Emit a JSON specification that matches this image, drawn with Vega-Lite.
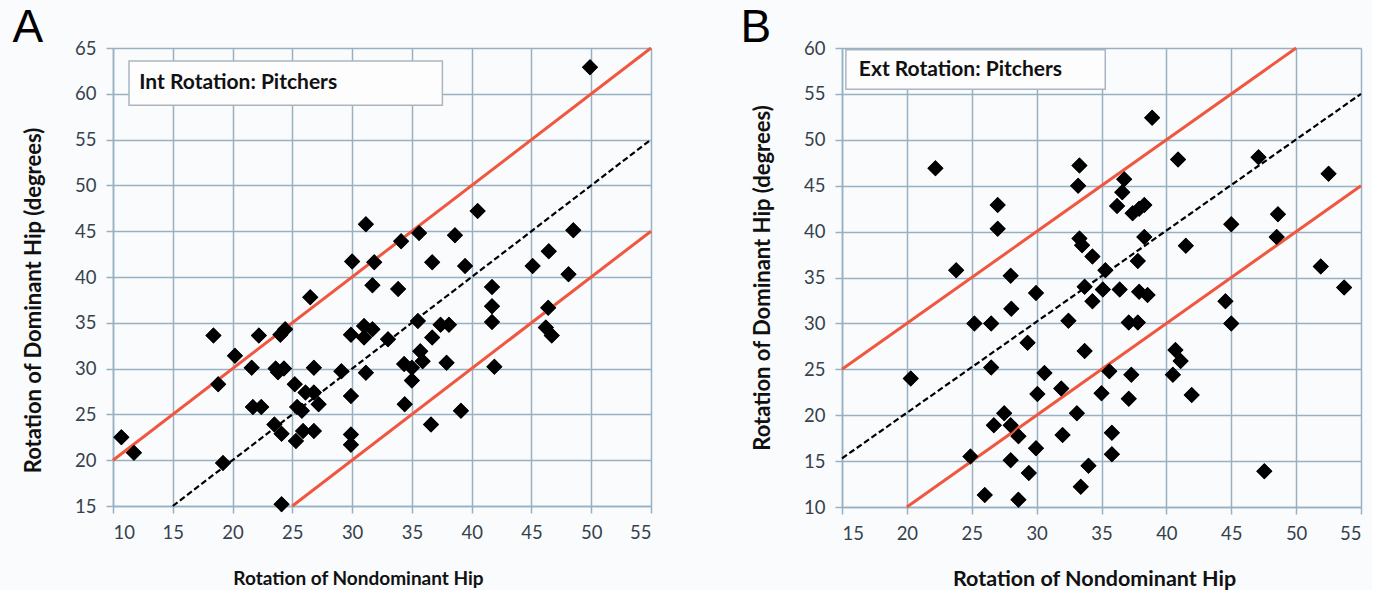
{
  "$schema": "https://vega.github.io/schema/vega-lite/v6.json",
  "background": "#fafbfd",
  "padding": {"left": 12, "top": 5, "right": 5, "bottom": 0},
  "spacing": 83,
  "config": {
    "view": {"stroke": null},
    "font": "Lato",
    "axis": {
      "grid": true, "gridColor": "#97b0c2", "gridWidth": 1.5, "gridOpacity": 1,
      "domainColor": "#97b0c2", "domainWidth": 1.5,
      "tickColor": "#97b0c2", "tickSize": 7, "tickWidth": 1.5,
      "labelFont": "Lato", "labelFontSize": 18.5, "labelColor": "#36414c", "labelPadding": 10,
      "titleFont": "Lato", "titleFontWeight": "bold", "titleColor": "#111111"
    },
    "axisX": {"titleFontSize": 19, "titlePadding": 28},
    "axisY": {"titleFontSize": 22, "titlePadding": 29},
    "title": {"font": "Liberation Sans", "fontSize": 46, "fontWeight": "normal", "color": "#000000", "anchor": "start", "frame": "bounds"}
  },
  "datasets": {
    "pa": [
      {"x":10.7,"y":22.5},{"x":11.75,"y":20.8},{"x":18.4,"y":33.6},{"x":18.8,"y":28.3},{"x":19.2,"y":19.7},{"x":20.2,"y":31.4},{"x":21.6,"y":30.1},{"x":21.7,"y":25.8},{"x":22.2,"y":33.6},{"x":22.4,"y":25.8},{"x":23.5,"y":23.9},{"x":24.1,"y":22.9},{"x":24.1,"y":15.2},{"x":24.0,"y":33.7},{"x":24.4,"y":34.3},{"x":23.6,"y":30.0},{"x":24.3,"y":30.0},{"x":23.8,"y":29.6},{"x":25.2,"y":28.3},{"x":25.3,"y":22.1},{"x":25.4,"y":25.8},{"x":25.8,"y":25.4},{"x":25.9,"y":23.2},{"x":26.8,"y":23.2},{"x":26.1,"y":27.4},{"x":26.8,"y":27.4},{"x":27.2,"y":26.1},{"x":26.5,"y":37.8},{"x":26.8,"y":30.1},{"x":29.1,"y":29.7},{"x":29.9,"y":33.7},{"x":29.9,"y":27.0},{"x":29.9,"y":22.8},{"x":29.9,"y":21.7},{"x":30.0,"y":41.7},{"x":31.15,"y":45.75},{"x":31.0,"y":34.65},{"x":31.7,"y":34.3},{"x":31.0,"y":33.4},{"x":31.15,"y":29.55},{"x":31.7,"y":39.1},{"x":31.85,"y":41.6},{"x":33.0,"y":33.2},{"x":33.85,"y":38.7},{"x":34.1,"y":43.9},{"x":34.35,"y":30.5},{"x":34.4,"y":26.1},{"x":35.0,"y":28.7},{"x":35.0,"y":30.1},{"x":35.5,"y":35.2},{"x":35.6,"y":44.8},{"x":35.7,"y":31.9},{"x":35.9,"y":30.8},{"x":36.7,"y":33.4},{"x":36.7,"y":41.6},{"x":36.6,"y":23.9},{"x":37.4,"y":34.8},{"x":38.1,"y":34.8},{"x":37.9,"y":30.65},{"x":38.6,"y":44.55},{"x":39.1,"y":25.4},{"x":39.45,"y":41.2},{"x":40.5,"y":47.2},{"x":41.7,"y":38.9},{"x":41.7,"y":36.8},{"x":41.7,"y":35.1},{"x":41.9,"y":30.2},{"x":45.1,"y":41.2},{"x":46.45,"y":42.8},{"x":46.4,"y":36.65},{"x":46.2,"y":34.5},{"x":46.7,"y":33.6},{"x":48.1,"y":40.3},{"x":48.5,"y":45.1},{"x":49.9,"y":62.9}
    ],
    "pb": [
      {"x":22.2,"y":46.9},{"x":27.0,"y":42.9},{"x":27.0,"y":40.3},{"x":23.8,"y":35.8},{"x":28.0,"y":35.2},{"x":29.95,"y":33.3},{"x":28.05,"y":31.6},{"x":25.2,"y":30.0},{"x":26.5,"y":30.0},{"x":29.3,"y":27.9},{"x":26.5,"y":25.2},{"x":20.3,"y":24.0},{"x":27.5,"y":20.2},{"x":26.7,"y":18.9},{"x":28.0,"y":18.9},{"x":28.6,"y":17.7},{"x":24.9,"y":15.5},{"x":28.0,"y":15.1},{"x":29.4,"y":13.7},{"x":26.0,"y":11.3},{"x":28.6,"y":10.8},{"x":30.06,"y":22.3},{"x":29.95,"y":16.4},{"x":30.6,"y":24.6},{"x":38.9,"y":52.4},{"x":40.9,"y":47.85},{"x":33.3,"y":47.2},{"x":33.2,"y":45.0},{"x":36.75,"y":45.7},{"x":36.6,"y":44.3},{"x":36.2,"y":42.8},{"x":37.4,"y":42.0},{"x":37.9,"y":42.5},{"x":38.3,"y":42.9},{"x":38.3,"y":39.4},{"x":33.3,"y":39.25},{"x":33.5,"y":38.5},{"x":41.5,"y":38.45},{"x":34.3,"y":37.3},{"x":37.8,"y":36.8},{"x":35.3,"y":35.8},{"x":33.7,"y":34.0},{"x":35.1,"y":33.7},{"x":36.4,"y":33.7},{"x":37.9,"y":33.45},{"x":38.55,"y":33.1},{"x":34.3,"y":32.4},{"x":32.45,"y":30.3},{"x":37.1,"y":30.1},{"x":37.8,"y":30.1},{"x":33.7,"y":27.0},{"x":40.7,"y":27.1},{"x":41.1,"y":25.9},{"x":40.5,"y":24.4},{"x":35.6,"y":24.8},{"x":37.3,"y":24.4},{"x":31.9,"y":22.9},{"x":35.0,"y":22.4},{"x":37.1,"y":21.8},{"x":41.95,"y":22.2},{"x":33.1,"y":20.2},{"x":32.0,"y":17.85},{"x":35.8,"y":18.1},{"x":35.8,"y":15.75},{"x":34.0,"y":14.5},{"x":33.4,"y":12.2},{"x":47.1,"y":48.1},{"x":52.5,"y":46.3},{"x":48.6,"y":41.9},{"x":45.0,"y":40.8},{"x":48.5,"y":39.4},{"x":51.9,"y":36.2},{"x":53.7,"y":33.9},{"x":44.55,"y":32.4},{"x":45.0,"y":30.0},{"x":47.55,"y":13.9}
    ],
    "la": [
      {"line":"upper","kind":"limit","x":10,"y":20},{"line":"upper","kind":"limit","x":55,"y":65},
      {"line":"lower","kind":"limit","x":25,"y":15},{"line":"lower","kind":"limit","x":55,"y":45},
      {"line":"equal","kind":"identity","x":15,"y":15},{"line":"equal","kind":"identity","x":55,"y":55}
    ],
    "lb": [
      {"line":"upper","kind":"limit","x":15,"y":25},{"line":"upper","kind":"limit","x":50,"y":60},
      {"line":"lower","kind":"limit","x":20,"y":10},{"line":"lower","kind":"limit","x":55,"y":45},
      {"line":"equal","kind":"identity","x":15,"y":15.3},{"line":"equal","kind":"identity","x":55,"y":55}
    ],
    "one": [{"label":"box"}]
  },
  "hconcat": [
    {
      "width": 538, "height": 458,
      "title": {"text": "A", "dx": -10, "offset": -13},
      "layer": [
        {
          "data": {"name": "pa"},
          "mark": {"type": "point", "shape": "diamond", "filled": true, "color": "#000000", "size": 256, "opacity": 1},
          "encoding": {
            "x": {"field": "x", "type": "quantitative", "scale": {"domain": [10, 55], "nice": false, "zero": false},
                  "axis": {"values": [10,15,20,25,30,35,40,45,50,55], "title": "Rotation of Nondominant Hip", "titleX": 245}},
            "y": {"field": "y", "type": "quantitative", "scale": {"domain": [15, 65], "nice": false, "zero": false},
                  "axis": {"values": [15,20,25,30,35,40,45,50,55,60,65], "title": "Rotation of Dominant Hip (degrees)", "titleY": 252}}
          }
        },
        {
          "data": {"name": "la"},
          "transform": [{"filter": "datum.kind == 'limit'"}],
          "mark": {"type": "line", "color": "#f0573f", "strokeWidth": 3},
          "encoding": {"x": {"field": "x", "type": "quantitative"}, "y": {"field": "y", "type": "quantitative"}, "detail": {"field": "line"}}
        },
        {
          "data": {"name": "la"},
          "transform": [{"filter": "datum.kind == 'identity'"}],
          "mark": {"type": "line", "color": "#000000", "strokeWidth": 2.2, "strokeDash": [6, 3]},
          "encoding": {"x": {"field": "x", "type": "quantitative"}, "y": {"field": "y", "type": "quantitative"}}
        },
        {
          "data": {"name": "pa"},
          "mark": {"type": "point", "shape": "diamond", "filled": true, "color": "#000000", "size": 256, "opacity": 1},
          "encoding": {"x": {"field": "x", "type": "quantitative"}, "y": {"field": "y", "type": "quantitative"}}
        },
        {
          "data": {"name": "one"},
          "mark": {"type": "rect", "fill": "#fdfdfe", "stroke": "#a9b6c0", "strokeWidth": 1.5},
          "encoding": {"x": {"datum": 11.34}, "x2": {"datum": 37.55}, "y": {"datum": 63.58}, "y2": {"datum": 58.74}}
        },
        {
          "data": {"name": "one"},
          "mark": {"type": "text", "text": "Int Rotation: Pitchers", "align": "left", "baseline": "middle", "font": "Lato", "fontSize": 21, "fontWeight": "bold", "color": "#111111"},
          "encoding": {"x": {"datum": 12.2}, "y": {"datum": 61.2}}
        }
      ]
    },
    {
      "width": 519, "height": 459,
      "title": {"text": "B", "dx": -11, "offset": -13},
      "layer": [
        {
          "data": {"name": "pb"},
          "mark": {"type": "point", "shape": "diamond", "filled": true, "color": "#000000", "size": 256, "opacity": 1},
          "encoding": {
            "x": {"field": "x", "type": "quantitative", "scale": {"domain": [15, 55], "nice": false, "zero": false},
                  "axis": {"values": [15,20,25,30,35,40,45,50,55], "title": "Rotation of Nondominant Hip", "titleX": 252, "titleFontSize": 21.5, "titlePadding": 26}},
            "y": {"field": "y", "type": "quantitative", "scale": {"domain": [10, 60], "nice": false, "zero": false},
                  "axis": {"values": [10,15,20,25,30,35,40,45,50,55,60], "title": "Rotation of Dominant Hip (degrees)"}}
          }
        },
        {
          "data": {"name": "lb"},
          "transform": [{"filter": "datum.kind == 'limit'"}],
          "mark": {"type": "line", "color": "#f0573f", "strokeWidth": 3},
          "encoding": {"x": {"field": "x", "type": "quantitative"}, "y": {"field": "y", "type": "quantitative"}, "detail": {"field": "line"}}
        },
        {
          "data": {"name": "lb"},
          "transform": [{"filter": "datum.kind == 'identity'"}],
          "mark": {"type": "line", "color": "#000000", "strokeWidth": 2.2, "strokeDash": [6, 3]},
          "encoding": {"x": {"field": "x", "type": "quantitative"}, "y": {"field": "y", "type": "quantitative"}}
        },
        {
          "data": {"name": "pb"},
          "mark": {"type": "point", "shape": "diamond", "filled": true, "color": "#000000", "size": 256, "opacity": 1},
          "encoding": {"x": {"field": "x", "type": "quantitative"}, "y": {"field": "y", "type": "quantitative"}}
        },
        {
          "data": {"name": "one"},
          "mark": {"type": "rect", "fill": "#fdfdfe", "stroke": "#a9b6c0", "strokeWidth": 1.5},
          "encoding": {"x": {"datum": 15.3}, "x2": {"datum": 35.29}, "y": {"datum": 59.8}, "y2": {"datum": 55.5}}
        },
        {
          "data": {"name": "one"},
          "mark": {"type": "text", "text": "Ext Rotation: Pitchers", "align": "left", "baseline": "middle", "font": "Lato", "fontSize": 21, "fontWeight": "bold", "color": "#111111"},
          "encoding": {"x": {"datum": 16.3}, "y": {"datum": 57.6}}
        }
      ]
    }
  ]
}
